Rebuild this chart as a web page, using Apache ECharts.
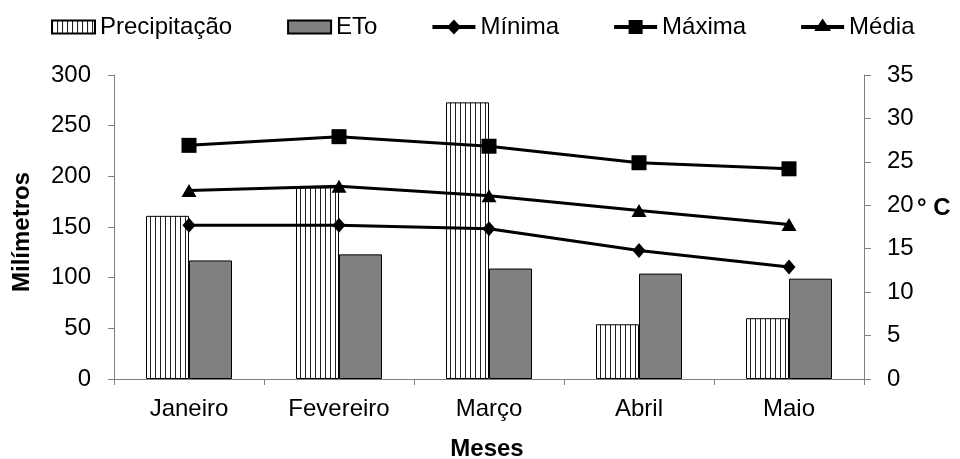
<!DOCTYPE html>
<html>
<head>
<meta charset="utf-8">
<script src="https://cdn.jsdelivr.net/npm/echarts@6/dist/echarts.min.js"></script>
<style>html,body{margin:0;padding:0;background:#fff}#c{width:960px;height:459px}</style>
</head>
<body>
<div id="c"></div>
<script>
const categories = ['Janeiro', 'Fevereiro', 'Março', 'Abril', 'Maio'];
const precipitacao = [161, 189, 273, 54, 60];
const eto = [117, 123, 109, 104, 99];
const minima = [17.7, 17.7, 17.3, 14.8, 12.9];
const maxima = [26.9, 27.9, 26.8, 24.9, 24.2];
const media = [21.7, 22.2, 21.1, 19.4, 17.8];

const FONT = "'Liberation Sans', Arial, sans-serif";

const pc = document.createElement('canvas');
pc.width = 5; pc.height = 5;
const ctx = pc.getContext('2d');
ctx.fillStyle = '#fff'; ctx.fillRect(0, 0, 5, 5);
ctx.fillStyle = '#222'; ctx.fillRect(0, 0, 1, 5);
const stripe = { image: pc, repeat: 'repeat' };

// legend icon shapes (43 x 17 box)
const BOX = 'M0,0 M43,17 ';
const LINE = 'M0,6.5 L43,6.5 L43,10.5 L0,10.5 Z ';
const iconBar = 'path://' + BOX + 'M0,2 L43,2 L43,15 L0,15 Z';
const iconMin = 'path://' + BOX + LINE + 'M21.5,1 L28.5,8.5 L21.5,16 L14.5,8.5 Z';
const iconMax = 'path://' + BOX + LINE + 'M14.5,1.5 L28.5,1.5 L28.5,15.5 L14.5,15.5 Z';
const iconMed = 'path://' + BOX + LINE + 'M21.5,0 L30,12.5 L13,12.5 Z';

const chart = echarts.init(document.getElementById('c'));
chart.setOption({
  animation: false,
  backgroundColor: '#fff',
  textStyle: { fontFamily: FONT, color: '#000' },
  legend: {
    left: 46, top: 10,
    itemWidth: 43, itemHeight: 17, itemGap: 55,
    textStyle: { fontFamily: FONT, fontSize: 24, color: '#000' },
    data: [
      { name: 'Precipitação', icon: iconBar },
      { name: 'ETo', icon: iconBar },
      { name: 'Mínima', icon: iconMin, itemStyle: { color: '#000', borderWidth: 0 } },
      { name: 'Máxima', icon: iconMax, itemStyle: { color: '#000', borderWidth: 0 } },
      { name: 'Média', icon: iconMed, itemStyle: { color: '#000', borderWidth: 0 } }
    ]
  },
  grid: { left: 114, right: 96, top: 75, bottom: 80 },
  xAxis: {
    type: 'category', data: categories, boundaryGap: true,
    axisLine: { lineStyle: { color: '#808080', width: 1 } },
    axisTick: { show: true, length: 6, interval: 0, lineStyle: { color: '#808080' } },
    axisLabel: { fontFamily: FONT, fontSize: 24, color: '#000', margin: 18, interval: 0 }
  },
  yAxis: [
    {
      type: 'value', min: 0, max: 300, interval: 50, position: 'left',
      axisLine: { show: true, lineStyle: { color: '#808080' } },
      axisTick: { show: true, length: 6, lineStyle: { color: '#808080' } },
      splitLine: { show: false },
      axisLabel: { fontFamily: FONT, fontSize: 24, color: '#000', margin: 23 }
    },
    {
      type: 'value', min: 0, max: 35, interval: 5, position: 'right',
      axisLine: { show: true, lineStyle: { color: '#808080' } },
      axisTick: { show: true, length: 7, lineStyle: { color: '#808080' } },
      splitLine: { show: false },
      axisLabel: { fontFamily: FONT, fontSize: 24, color: '#000', margin: 23 }
    }
  ],
  graphic: [
    { type: 'text', x: 22, y: 232, rotation: Math.PI / 2,
      style: { text: 'Milímetros', font: "bold 24px 'Liberation Sans', Arial, sans-serif", fill: '#000', align: 'center', verticalAlign: 'middle' } },
    { type: 'text', x: 487, y: 449,
      style: { text: 'Meses', font: "bold 24px 'Liberation Sans', Arial, sans-serif", fill: '#000', align: 'center', verticalAlign: 'middle' } },
    { type: 'text', x: 917, y: 208,
      style: { text: '° C', font: "bold 24px 'Liberation Sans', Arial, sans-serif", fill: '#000', align: 'left', verticalAlign: 'middle' } }
  ],
  series: [
    { name: 'Precipitação', type: 'bar', data: precipitacao, barWidth: 43, barGap: '0%',
      itemStyle: { color: stripe, borderColor: '#000', borderWidth: 1 } },
    { name: 'ETo', type: 'bar', data: eto, barWidth: 43, barGap: '0%',
      itemStyle: { color: '#808080', borderColor: '#000', borderWidth: 1 } },
    { name: 'Mínima', type: 'line', yAxisIndex: 1, data: minima, symbol: 'diamond', symbolSize: [13, 15],
      lineStyle: { color: '#000', width: 3 }, itemStyle: { color: '#000' } },
    { name: 'Máxima', type: 'line', yAxisIndex: 1, data: maxima, symbol: 'rect', symbolSize: 15,
      lineStyle: { color: '#000', width: 3 }, itemStyle: { color: '#000' } },
    { name: 'Média', type: 'line', yAxisIndex: 1, data: media, symbol: 'triangle', symbolSize: [15, 13],
      lineStyle: { color: '#000', width: 3 }, itemStyle: { color: '#000' } }
  ]
});
</script>
</body>
</html>
